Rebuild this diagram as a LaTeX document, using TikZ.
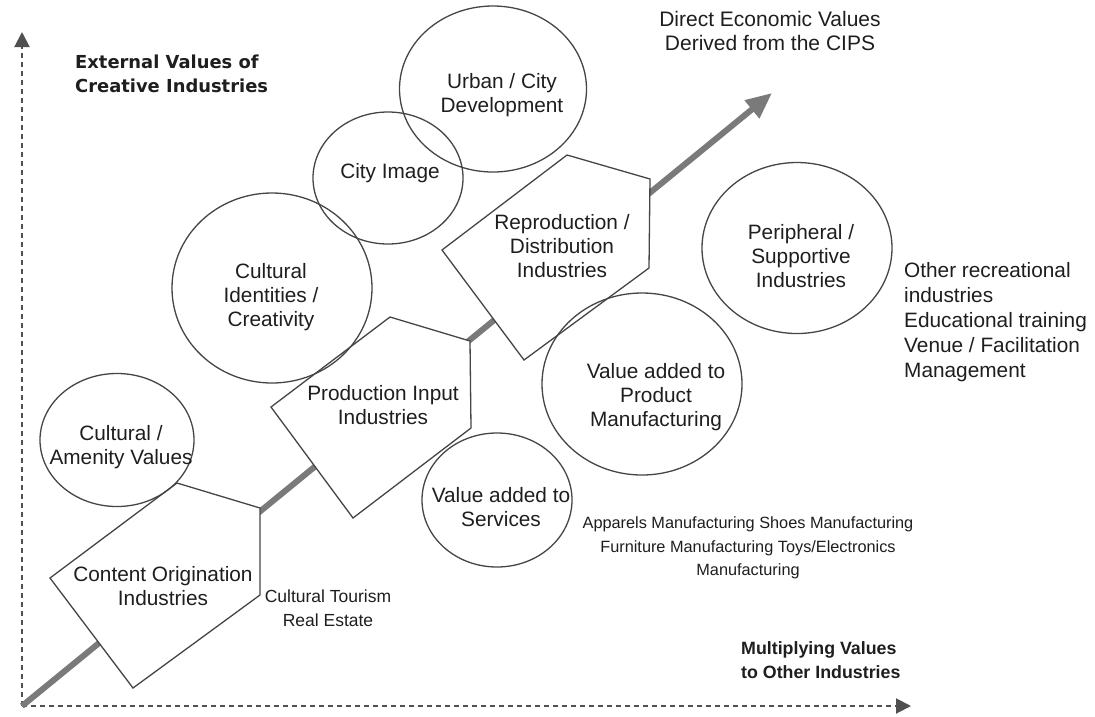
\documentclass[tikz,border=0pt]{standalone}
\usepackage{fontspec}
\setmainfont{Liberation Sans}
\newfontfamily\dejavu{DejaVu Sans}
\usetikzlibrary{arrows.meta,shapes.geometric}
\definecolor{ln}{HTML}{454545}
\definecolor{tx}{HTML}{1E1E1E}
\definecolor{arr}{HTML}{7A7A7A}
\definecolor{ax}{HTML}{505050}
\tikzset{
  circ/.style={ellipse,draw=ln,line width=1.3pt,inner sep=0pt},
  pent/.style={draw=ln,line width=1.3pt,fill=white,line join=miter},
  lbl/.style={text=tx,align=center,font=\fontsize{20.8}{24}\selectfont,inner sep=0pt},
  lbll/.style={text=tx,align=left,font=\fontsize{20.8}{25}\selectfont,inner sep=0pt},
  small/.style={text=tx,align=center,font=\fontsize{16.3}{23.5}\selectfont,inner sep=0pt},
  bold/.style={text=tx,align=left,font=\fontsize{17.9}{24}\selectfont\dejavu\bfseries,inner sep=0pt},
  axis/.style={draw=ax,line width=2pt,dash pattern=on 5pt off 4pt,-{Triangle[length=15pt,width=15pt]}},
  mainarrow/.style={draw=arr,line width=6pt,-{Triangle[length=26pt,width=22pt]}}
}
\begin{document}
\begin{tikzpicture}[x=1pt,y=-1pt]
\useasboundingbox (0,0) rectangle (1095,716);
% axes
\coordinate (O) at (22,706);
\coordinate (ytop) at (22,32);
\coordinate (xend) at (911,706);
\draw[axis] (O) -- (ytop);
\draw[axis] (O) -- (xend);
% main arrow
\coordinate (mtip) at (772,93);
\draw[mainarrow] (O) -- (mtip);
% pentagons
\draw[pent] (50,578) -- (177,483) -- (260,508) -- (260,595) -- (133,688) -- cycle;
\draw[pent] (271,407) -- (390,317) -- (470,341) -- (471,428) -- (353,518) -- cycle;
\draw[pent] (442,250) -- (567,155) -- (650,179) -- (649,268) -- (524,360) -- cycle;
\node[lbl] (content) at (163,586) {Content Origination\\Industries};
\node[lbl] (prod) at (383,405) {Production Input\\Industries};
\node[lbl] (repro) at (562,246) {Reproduction /\\Distribution\\Industries};
% circles
\node[circ,minimum width=154pt,minimum height=133pt] (amenC) at (117,440) {};
\node[lbl] (amen) at (121,447) {Cultural /\\Amenity Values};
\node[circ,minimum width=200pt,minimum height=190pt] (identC) at (272,288) {};
\node[lbl] (ident) at (271,297) {Cultural\\Identities /\\Creativity};
\node[circ,minimum width=150pt,minimum height=132pt] (cityC) at (388,178) {};
\node[lbl] (city) at (390,173) {City Image};
\node[circ,minimum width=187pt,minimum height=166pt] (urbanC) at (493,89) {};
\node[lbl] (urban) at (502,95) {Urban / City\\Development};
\node[circ,minimum width=200pt,minimum height=182pt] (manuC) at (642,384) {};
\node[lbl] (manu) at (656,397) {Value added to\\Product\\Manufacturing};
\node[circ,minimum width=150pt,minimum height=134pt] (servC) at (497,500) {};
\node[lbl] (serv) at (501,507) {Value added to\\Services};
\node[circ,minimum width=190pt,minimum height=171pt] (periC) at (797,248) {};
\node[lbl] (peri) at (801,256) {Peripheral /\\Supportive\\Industries};
% free texts
\node[bold,anchor=west] (ext) at (75,74) {External Values of\\Creative Industries};
\node[lbl,font=\fontsize{21}{24}\selectfont] (direct) at (770,31) {Direct Economic Values\\Derived from the CIPS};
\node[bold,anchor=west,font=\fontsize{17.8}{24}\selectfont\bfseries] (mult) at (741,660) {Multiplying Values\\to Other Industries};
\node[small,font=\fontsize{17.5}{23.5}\selectfont] (tour) at (328,608) {Cultural Tourism\\Real Estate};
\node[small] (appar) at (748,548) {Apparels Manufacturing Shoes Manufacturing\\Furniture Manufacturing Toys/Electronics\\Manufacturing};
\node[lbll,anchor=west] (other) at (904,322) {Other recreational\\industries\\Educational training\\Venue / Facilitation\\Management};
\end{tikzpicture}
\end{document}
